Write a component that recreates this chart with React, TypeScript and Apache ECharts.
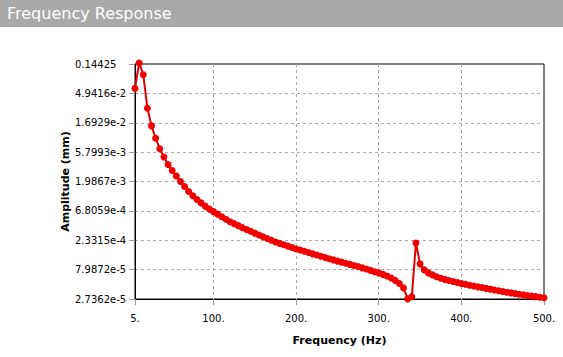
import React, { useEffect, useRef } from "react";
import * as echarts from "echarts";

const frequencies = [
  5, 10, 15, 20, 25, 30, 35, 40, 45, 50,
  55, 60, 65, 70, 75, 80, 85, 90, 95, 100,
  105, 110, 115, 120, 125, 130, 135, 140, 145, 150,
  155, 160, 165, 170, 175, 180, 185, 190, 195, 200,
  205, 210, 215, 220, 225, 230, 235, 240, 245, 250,
  255, 260, 265, 270, 275, 280, 285, 290, 295, 300,
  305, 310, 315, 320, 325, 330, 335, 340, 345, 350,
  355, 360, 365, 370, 375, 380, 385, 390, 395, 400,
  405, 410, 415, 420, 425, 430, 435, 440, 445, 450,
  455, 460, 465, 470, 475, 480, 485, 490, 495, 500,
];

const amplitudes = [
  0.0593, 0.150, 0.0975, 0.0288, 0.0151, 0.0096, 0.00658, 0.00487, 0.00370, 0.00297,
  0.00243, 0.00199, 0.00166, 0.00138, 0.00118, 0.00103, 0.000911, 0.000810, 0.000726, 0.000662,
  0.000604, 0.000551, 0.000503, 0.000459, 0.000427, 0.000397, 0.000369, 0.000345, 0.000323, 0.000302,
  0.000282, 0.000265, 0.000249, 0.000233, 0.000219, 0.000208, 0.000198, 0.000188, 0.000179, 0.000170,
  0.000163, 0.000156, 0.000149, 0.000142, 0.000136, 0.000130, 0.000124, 0.000119, 0.000114, 0.000109,
  0.000105, 0.000101, 0.0000968, 0.0000930, 0.0000893, 0.0000852, 0.0000815, 0.0000777, 0.0000741, 0.0000709,
  0.0000671, 0.0000635, 0.0000590, 0.0000539, 0.0000483, 0.0000410, 0.0000275, 0.0000298, 0.000210, 0.0000986,
  0.0000792, 0.0000709, 0.0000659, 0.0000617, 0.0000584, 0.0000559, 0.0000537, 0.0000518, 0.0000499, 0.0000483,
  0.0000467, 0.0000452, 0.0000439, 0.0000426, 0.0000415, 0.0000403, 0.0000392, 0.0000380, 0.0000369, 0.0000360,
  0.0000351, 0.0000342, 0.0000333, 0.0000326, 0.0000318, 0.0000311, 0.0000304, 0.0000298, 0.0000291, 0.0000286,
];

const xTickValues = [5, 100, 200, 300, 400, 500];

const yTickLabels = [
  "2.7362e-5", "7.9872e-5", "2.3315e-4", "6.8059e-4", "1.9867e-3",
  "5.7993e-3", "1.6929e-2", "4.9416e-2", "0.14425",
];

const Y_MIN = 2.7362e-5;
const Y_MAX = 0.14425;
const X_MIN = 5;
const X_MAX = 500;

const TITLE = "Frequency Response";
const X_NAME = "Frequency (Hz)";
const Y_NAME = "Amplitude (mm)";

const FONT = "'DejaVu Sans', Verdana, sans-serif";

export default function App() {
  const ref = useRef<HTMLDivElement>(null);

  useEffect(() => {
    if (!ref.current) return;
    const chart = echarts.init(ref.current, null, { renderer: "svg" });
    const steps = yTickLabels.length - 1;
    const toPos = (v: number) => (Math.log(v / Y_MIN) / Math.log(Y_MAX / Y_MIN)) * steps;
    const data = frequencies.map((f, i) => [f, toPos(amplitudes[i])]);

    chart.setOption({
      animation: false,
      backgroundColor: "#ffffff",
      textStyle: { fontFamily: FONT },
      graphic: [
        {
          type: "rect",
          shape: { x: 0, y: 0, width: 563, height: 27 },
          style: { fill: "#a9a9a9" },
          z: 100,
        },
        {
          type: "text",
          x: 7,
          y: 13.5,
          style: {
            text: TITLE,
            fill: "#ffffff",
            font: `16px ${FONT}`,
            verticalAlign: "middle",
            align: "left",
          },
          z: 101,
        },
      ],
      grid: {
        left: 135,
        right: 19,
        top: 64,
        bottom: 58,
        show: true,
        borderColor: "#000000",
        borderWidth: 1,
        backgroundColor: "transparent",
      },
      xAxis: {
        type: "value",
        min: X_MIN,
        max: X_MAX,
        name: X_NAME,
        nameLocation: "middle",
        nameGap: 36,
        nameMoveOverlap: false,
        nameTextStyle: { fontFamily: FONT, fontSize: 11, fontWeight: "bold", color: "#000" },
        axisLine: { show: true, lineStyle: { color: "#000", width: 1 } },
        axisTick: { show: true, length: 6, lineStyle: { color: "#999" }, customValues: xTickValues },
        axisLabel: {
          margin: 14,
          fontSize: 10,
          color: "#000",
          fontFamily: FONT,
          customValues: xTickValues,
          formatter: (v: number) => `${v}.`,
        },
        splitLine: {
          show: true,
          showMinLine: false,
          showMaxLine: false,
          lineStyle: { color: "#aaaaaa", type: [3, 3], width: 1 },
        },
      },
      yAxis: {
        type: "value",
        min: 0,
        max: steps,
        interval: 1,
        name: Y_NAME,
        nameLocation: "middle",
        nameGap: 64,
        nameMoveOverlap: false,
        nameTextStyle: { fontFamily: FONT, fontSize: 11, fontWeight: "bold", color: "#000" },
        axisLine: { show: true, lineStyle: { color: "#000", width: 1 } },
        axisTick: { show: true, length: 6, lineStyle: { color: "#999" } },
        axisLabel: {
          align: "left",
          margin: 60,
          fontSize: 10,
          color: "#000",
          fontFamily: FONT,
          formatter: (v: number) => yTickLabels[Math.round(v)] ?? "",
        },
        splitLine: {
          show: true,
          showMinLine: false,
          showMaxLine: false,
          lineStyle: { color: "#aaaaaa", type: [3, 3], width: 1 },
        },
      },
      series: [
        {
          type: "line",
          data,
          clip: false,
          symbol: "circle",
          symbolSize: 7,
          showSymbol: true,
          lineStyle: { color: "#dd0000", width: 2 },
          itemStyle: { color: "#f20000" },
        },
      ],
    });

    return () => chart.dispose();
  }, []);

  return (
    <div
      ref={ref}
      style={{ position: "absolute", left: 0, top: 0, width: 563, height: 357 }}
    />
  );
}
